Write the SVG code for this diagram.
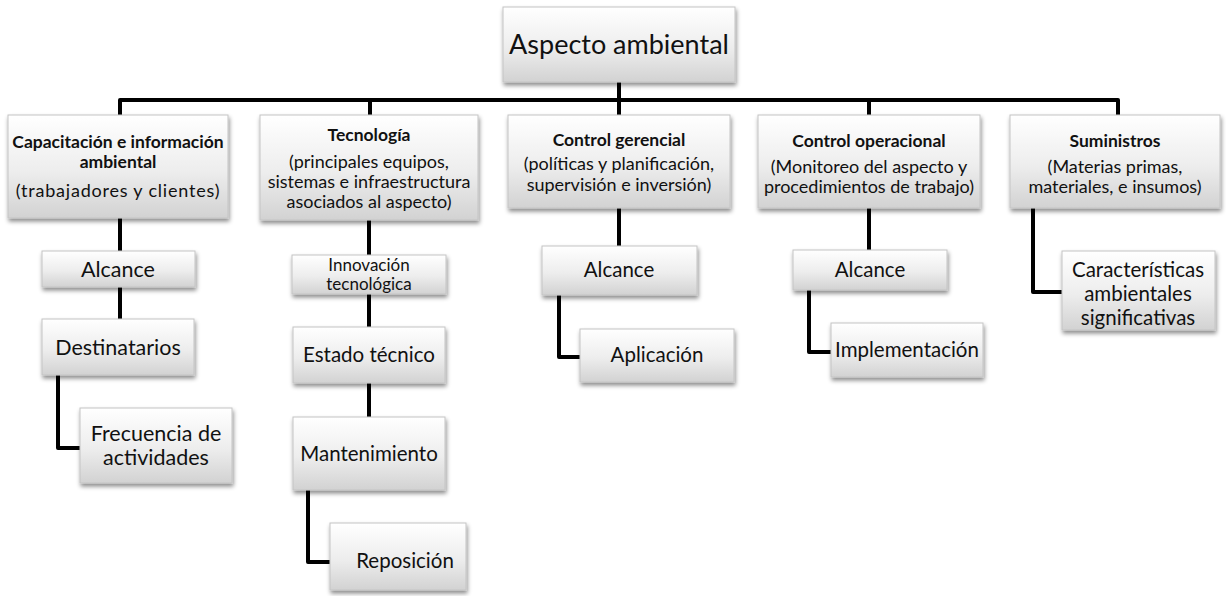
<svg xmlns="http://www.w3.org/2000/svg" width="1226" height="596" viewBox="0 0 1226 596">
<style>
.box{fill:url(#g);stroke:#c4c4c4;stroke-width:1;filter:url(#sh)}
.t{font-family:Lato,"Liberation Sans",sans-serif;fill:#111;text-anchor:middle}
.h{font-weight:bold;font-size:17.5px}
.s{font-size:18px}
.m{font-size:20.5px}
.l{font-size:21.5px}
.c{fill:none;stroke:#000;stroke-width:4;stroke-linejoin:round}
</style>
<defs>
<linearGradient id="g" x1="0" y1="0" x2="0" y2="1">
<stop offset="0" stop-color="#ffffff"/>
<stop offset="0.55" stop-color="#ededed"/>
<stop offset="1" stop-color="#d2d2d2"/>
</linearGradient>
<filter id="sh" x="-10%" y="-10%" width="125%" height="135%">
<feDropShadow dx="1" dy="3" stdDeviation="2" flood-color="#000" flood-opacity="0.45"/>
</filter>
</defs>
<rect width="1226" height="596" fill="#fff"/>
<g id="connectors">
<path class="c" d="M120 115 V100 H1118 V115"/>
<path class="c" d="M619 82 V115"/>
<path class="c" d="M370 100 V115"/>
<path class="c" d="M869 100 V115"/>
<path class="c" d="M120 218 V251"/>
<path class="c" d="M120 287 V319"/>
<path class="c" d="M58 375 V448 H80"/>
<path class="c" d="M369 220 V255"/>
<path class="c" d="M369 294 V327"/>
<path class="c" d="M369 383 V417"/>
<path class="c" d="M308 490 V562 H330"/>
<path class="c" d="M619 208 V246"/>
<path class="c" d="M559 295 V357 H580"/>
<path class="c" d="M869 208 V250"/>
<path class="c" d="M809 290 V352 H831"/>
<path class="c" d="M1033 208 V292 H1062"/>
</g>
<g id="root">
<rect class="box" x="503" y="7" width="232" height="75"/>
<text class="t" x="619" y="54" font-size="27">Aspecto ambiental</text>
</g>
<g id="capacitacion">
<rect class="box" x="8" y="115" width="220" height="103"/>
<text class="t h" x="118" y="148" font-size="17">Capacitación e información</text>
<text class="t h" x="118" y="168" font-size="17">ambiental</text>
<text class="t s" x="118" y="197" letter-spacing="0.8">(trabajadores y clientes)</text>
</g>
<g id="tecnologia">
<rect class="box" x="260" y="115" width="218" height="105"/>
<text class="t h" x="369" y="141">Tecnología</text>
<text class="t s" x="369" y="168">(principales equipos,</text>
<text class="t s" x="369" y="188">sistemas e infraestructura</text>
<text class="t s" x="369" y="208">asociados al aspecto)</text>
</g>
<g id="control-gerencial">
<rect class="box" x="508" y="115" width="222" height="93"/>
<text class="t h" x="619" y="146">Control gerencial</text>
<text class="t s" x="619" y="170">(políticas y planificación,</text>
<text class="t s" x="619" y="191">supervisión e inversión)</text>
</g>
<g id="control-operacional">
<rect class="box" x="758" y="115" width="222" height="93"/>
<text class="t h" x="869" y="147">Control operacional</text>
<text class="t s" x="869" y="173">(Monitoreo del aspecto y</text>
<text class="t s" x="869" y="193">procedimientos de trabajo)</text>
</g>
<g id="suministros">
<rect class="box" x="1010" y="115" width="210" height="93"/>
<text class="t h" x="1115" y="147">Suministros</text>
<text class="t s" x="1115" y="173">(Materias primas,</text>
<text class="t s" x="1115" y="193">materiales, e insumos)</text>
</g>
<g id="alcance-1">
<rect class="box" x="42" y="251" width="153" height="36"/>
<text class="t l" x="118" y="277">Alcance</text>
</g>
<g id="destinatarios">
<rect class="box" x="42" y="319" width="152" height="56"/>
<text class="t l" x="118" y="355">Destinatarios</text>
</g>
<g id="frecuencia">
<rect class="box" x="80" y="408" width="152" height="75"/>
<text class="t l" x="156" y="441">Frecuencia de</text>
<text class="t l" x="156" y="465">actividades</text>
</g>
<g id="innovacion">
<rect class="box" x="292" y="255" width="154" height="39"/>
<text class="t" x="369" y="271" font-size="17">Innovación</text>
<text class="t" x="369" y="290" font-size="17">tecnológica</text>
</g>
<g id="estado-tecnico">
<rect class="box" x="293" y="327" width="152" height="56"/>
<text class="t m" x="369" y="362">Estado técnico</text>
</g>
<g id="mantenimiento">
<rect class="box" x="293" y="417" width="152" height="73"/>
<text class="t m" x="369" y="461">Mantenimiento</text>
</g>
<g id="reposicion">
<rect class="box" x="330" y="523" width="136" height="67"/>
<text class="t m" x="405" y="568">Reposición</text>
</g>
<g id="alcance-3">
<rect class="box" x="542" y="246" width="155" height="49"/>
<text class="t m" x="619" y="277">Alcance</text>
</g>
<g id="aplicacion">
<rect class="box" x="580" y="329" width="154" height="53"/>
<text class="t m" x="657" y="362">Aplicación</text>
</g>
<g id="alcance-4">
<rect class="box" x="793" y="250" width="154" height="40"/>
<text class="t m" x="870" y="277">Alcance</text>
</g>
<g id="implementacion">
<rect class="box" x="831" y="323" width="152" height="54"/>
<text class="t m" x="907" y="357">Implementación</text>
</g>
<g id="caracteristicas">
<rect class="box" x="1062" y="251" width="153" height="79"/>
<text class="t m" x="1138" y="277">Características</text>
<text class="t m" x="1138" y="301">ambientales</text>
<text class="t m" x="1138" y="325">significativas</text>
</g>
</svg>
